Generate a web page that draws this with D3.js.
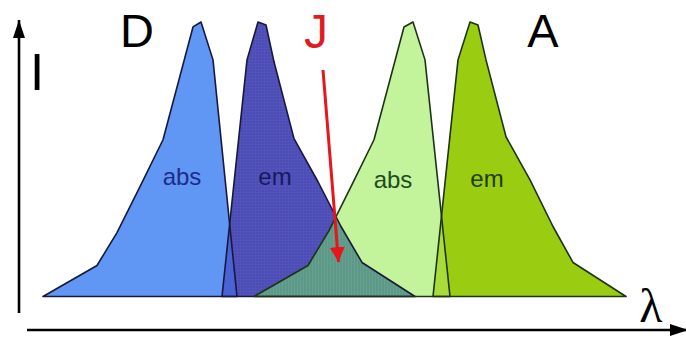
<!DOCTYPE html>
<html>
<head>
<meta charset="utf-8">
<script src="https://cdn.jsdelivr.net/npm/d3@7"></script>
<style>
  html, body { margin: 0; padding: 0; background: #ffffff; }
  svg { display: block; }
</style>
</head>
<body>
<svg id="chart" width="686" height="338"></svg>
<script>
// Spectra as [wavelength, relative intensity] pairs (arbitrary wavelength units)
const donorAbs = [[0,0],[54,0.113],[74,0.233],[97,0.4],[120,0.571],[150,0.982],[158,1],[170,0.862],[194,0]];
const donorEm = [[179,0],[204,0.862],[215,1],[223,0.989],[231,0.855],[251,0.575],[275,0.418],[298,0.255],[319,0.124],[372,0]];
const acceptorAbs = [[211,0],[265,0.113],[286,0.24],[308,0.4],[331,0.571],[361,0.982],[370,1],[382,0.862],[407,0]];
const acceptorEm = [[390,0],[415,0.862],[427,1],[435,0.989],[443,0.862],[463,0.582],[487,0.425],[510,0.255],[530,0.124],[583,0]];

const bandLabels = ["abs", "em", "abs", "em"];
const moleculeLabels = ["D", "A"];
const overlapLabel = "J";
const axisLabels = ["I", "λ"];

const svg = d3.select("#chart");

const x = d3.scaleLinear().domain([0, 583]).range([43, 626]);
const y = d3.scaleLinear().domain([0, 1]).range([296.5, 22]);

const line = d3.line().x(d => x(d[0])).y(d => y(d[1])).curve(d3.curveLinearClosed);

const spectra = [
  { id: "donorAbs", data: donorAbs, fill: "#6096f4", stroke: "#18183a" },
  { id: "donorEm", data: donorEm, fill: "#4c4cb4", stroke: "#18183a" },
  { id: "acceptorAbs", data: acceptorAbs, fill: "#c3f49c", stroke: "#1d3316" },
  { id: "acceptorEm", data: acceptorEm, fill: "#9acc12", stroke: "#1d3316" }
];

const defs = svg.append("defs");

// Clip paths so overlapping regions can be tinted
spectra.forEach(s => {
  defs.append("clipPath").attr("id", "clip-" + s.id)
    .append("path").attr("d", line(s.data));
});

// Fine crosshatch texture used on the donor emission band
const hatch = defs.append("pattern").attr("id", "hatch")
  .attr("width", 3).attr("height", 3).attr("patternUnits", "userSpaceOnUse");
hatch.append("rect").attr("width", 3).attr("height", 3).attr("fill", "#4c4cb4");
hatch.append("path").attr("d", "M0,0.5H3M0.5,0V3").attr("stroke", "#5658be").attr("stroke-width", 0.6);

const stripes = defs.append("pattern").attr("id", "stripes")
  .attr("width", 3).attr("height", 3).attr("patternUnits", "userSpaceOnUse");
stripes.append("rect").attr("width", 3).attr("height", 3).attr("fill", "#5e9886");
stripes.append("path").attr("d", "M0.5,0V3").attr("stroke", "#6aa492").attr("stroke-width", 0.7);

// Band fills
const fills = svg.append("g");
spectra.forEach(s => {
  fills.append("path").attr("d", line(s.data))
    .attr("fill", s.id === "donorEm" ? "url(#hatch)" : s.fill);
});

// Overlaps: donor abs/em, spectral overlap J (donor em / acceptor abs), acceptor abs/em
const overlaps = [
  { a: donorAbs, clip: "donorEm", fill: "#4b62d6" },
  { a: acceptorAbs, clip: "donorEm", fill: "url(#stripes)" },
  { a: acceptorEm, clip: "acceptorAbs", fill: "#a9dc3a" }
];
overlaps.forEach(o => {
  fills.append("path").attr("d", line(o.a))
    .attr("clip-path", "url(#clip-" + o.clip + ")")
    .attr("fill", o.fill);
});

// Outlines on top
spectra.forEach(s => {
  svg.append("path").attr("d", line(s.data))
    .attr("fill", "none")
    .attr("stroke", s.stroke)
    .attr("stroke-width", 1.6)
    .attr("stroke-linejoin", "round");
});

// Band labels
const labelPos = [[139, 0.405], [232, 0.405], [350, 0.395], [444, 0.4]];
const labelColors = ["#1d2c8c", "#151a5c", "#1d4d1d", "#1d3d0d"];
const font = "Liberation Sans, Arial, sans-serif";
svg.append("g").selectAll("text").data(bandLabels).join("text")
  .attr("x", (d, i) => x(labelPos[i][0]))
  .attr("y", (d, i) => y(labelPos[i][1]))
  .attr("text-anchor", "middle")
  .attr("font-family", font)
  .attr("font-size", 24)
  .attr("fill", (d, i) => labelColors[i])
  .text(d => d);

// Molecule letters
svg.append("text").attr("x", 137).attr("y", 47).attr("text-anchor", "middle")
  .attr("font-family", font).attr("font-size", 47).attr("fill", "#000").text(moleculeLabels[0]);
svg.append("text").attr("x", 543).attr("y", 47).attr("text-anchor", "middle")
  .attr("font-family", font).attr("font-size", 47).attr("fill", "#000").text(moleculeLabels[1]);
svg.append("text").attr("x", 316).attr("y", 48).attr("text-anchor", "middle")
  .attr("font-family", font).attr("font-size", 48).attr("fill", "#e01b24").text(overlapLabel);

// Energy transfer arrow
defs.append("marker").attr("id", "redhead")
  .attr("viewBox", "0 0 10 10").attr("refX", 10).attr("refY", 5)
  .attr("markerWidth", 5).attr("markerHeight", 5).attr("markerUnits", "strokeWidth")
  .attr("orient", "auto")
  .append("path").attr("d", "M0,0L10,5L0,10Z").attr("fill", "#e8151c");
svg.append("line")
  .attr("x1", 323).attr("y1", 70).attr("x2", 338.5).attr("y2", 262)
  .attr("stroke", "#e8151c").attr("stroke-width", 3)
  .attr("marker-end", "url(#redhead)");

// Axes with elongated arrowheads
defs.append("marker").attr("id", "blackhead")
  .attr("viewBox", "0 0 15 10").attr("refX", 15).attr("refY", 5)
  .attr("markerWidth", 7).attr("markerHeight", 4.7).attr("markerUnits", "strokeWidth")
  .attr("orient", "auto")
  .append("path").attr("d", "M0,0L15,5L0,10Z").attr("fill", "#000");
svg.append("line")
  .attr("x1", 19).attr("y1", 313).attr("x2", 19).attr("y2", 20)
  .attr("stroke", "#000").attr("stroke-width", 2.6)
  .attr("marker-end", "url(#blackhead)");
svg.append("line")
  .attr("x1", 27).attr("y1", 330).attr("x2", 688).attr("y2", 330)
  .attr("stroke", "#000").attr("stroke-width", 2.6)
  .attr("marker-end", "url(#blackhead)");

svg.append("text").attr("x", 37).attr("y", 90).attr("text-anchor", "middle")
  .attr("font-family", font).attr("font-size", 51).attr("fill", "#000").text(axisLabels[0]);
svg.append("text").attr("x", 651).attr("y", 322).attr("text-anchor", "middle")
  .attr("font-family", "Liberation Serif, Times New Roman, serif").attr("font-size", 48)
  .attr("fill", "#000").text(axisLabels[1]);
</script>
</body>
</html>
